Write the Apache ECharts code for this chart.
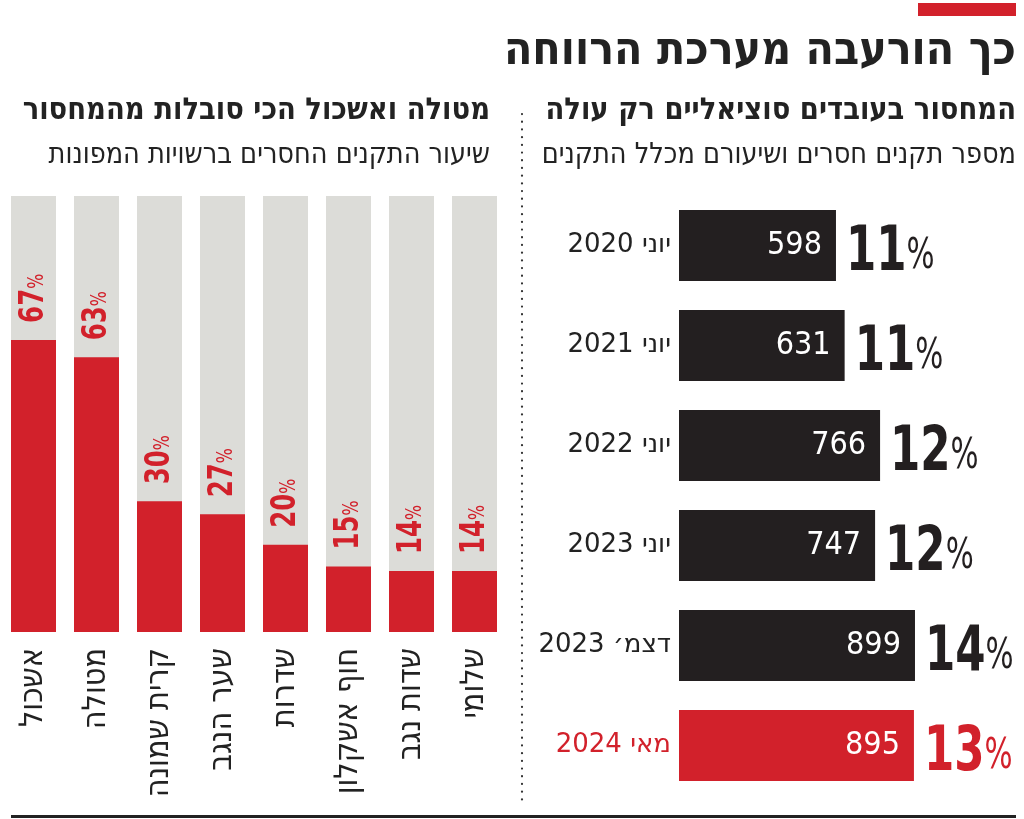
<!DOCTYPE html>
<html><head><meta charset="utf-8">
<script src="https://cdn.jsdelivr.net/npm/echarts@6/dist/echarts.min.js"></script>
<style>html,body{margin:0;padding:0;background:#fff}#c{width:1024px;height:819px}</style>
</head><body><div id="c"></div>
<script>
// Left panel: share of missing positions in evacuated municipalities
const towns = ['אשכול','מטולה','קרית שמונה','שער הנגב','שדרות','חוף אשקלון','שדות נגב','שלומי'];
const townPct = [67, 63, 30, 27, 20, 15, 14, 14];
// Right panel: missing social-worker positions
const periods = ['יוני 2020','יוני 2021','יוני 2022','יוני 2023','דצמ׳ 2023','מאי 2024'];
const missing = [598, 631, 766, 747, 899, 895];
const missingPct = [11, 11, 12, 12, 14, 13];

const RED = '#d2212b', BLACK = '#231f20', GRAY = '#dcdcd8', TXT = '#222';
const COND = '"DejaVu Sans Condensed", "Liberation Sans Narrow", sans-serif';

const chart = echarts.init(document.getElementById('c'), null, {renderer: 'canvas'});
const lastIdx = periods.length - 1;

function pctText(n, big, small, color) {
  return {
    text: '{n|' + n + '}{p|%}',
    rich: {
      n: {fontSize: big, fontWeight: 'bold', fontFamily: COND, fill: color, color: color, verticalAlign: 'bottom'},
      p: {fontSize: small, fontFamily: COND, fill: color, color: color, verticalAlign: 'bottom', padding: [0, 0, Math.round(big * 0.09), 0]}
    }
  };
}

chart.setOption({
  animation: false,
  backgroundColor: '#fff',
  grid: [
    {left: 2, top: 196, width: 504, height: 436},
    {left: 679, top: 195.5, width: 262.5, height: 600}
  ],
  xAxis: [
    {gridIndex: 0, type: 'category', data: towns,
     axisLine: {show: false}, axisTick: {show: false},
     axisLabel: {rotate: 90, margin: 16, color: TXT, fontSize: 32, fontFamily: COND, interval: 0}},
    {gridIndex: 1, type: 'value', min: 0, max: 1000, show: false}
  ],
  yAxis: [
    {gridIndex: 0, type: 'value', min: 0, max: 100, show: false},
    {gridIndex: 1, type: 'category', data: periods, inverse: true,
     axisLine: {show: false}, axisTick: {show: false},
     axisLabel: {margin: 8, fontSize: 26, fontFamily: '"DejaVu Sans", sans-serif',
       color: (v, i) => i === lastIdx ? RED : TXT}}
  ],
  series: [
    {type: 'bar', xAxisIndex: 0, yAxisIndex: 0, data: townPct, barWidth: 45,
     itemStyle: {color: RED}, showBackground: true, backgroundStyle: {color: GRAY}},
    {type: 'custom', xAxisIndex: 0, yAxisIndex: 0, silent: true,
     data: townPct.map((v, i) => [i, v]),
     renderItem: (params, api) => {
       const pt = api.coord([api.value(0), api.value(1)]);
       const t = pctText(api.value(1), 34, 22, RED);
       return {type: 'text', x: pt[0] + 1, y: pt[1] - 17, rotation: Math.PI / 2, scaleX: 0.8,
         style: {text: t.text, rich: t.rich, align: 'left', verticalAlign: 'middle'}};
     }},
    {type: 'bar', xAxisIndex: 1, yAxisIndex: 1, barWidth: 71,
     data: missing.map((v, i) => ({value: v, itemStyle: {color: i === lastIdx ? RED : BLACK}})),
     label: {show: true, position: 'insideRight', distance: 14, color: '#fff', fontSize: 32, fontFamily: COND}},
    {type: 'custom', xAxisIndex: 1, yAxisIndex: 1, silent: true,
     data: missing.map((v, i) => [v, i, missingPct[i]]),
     renderItem: (params, api) => {
       const pt = api.coord([api.value(0), api.value(1)]);
       const idx = api.value(1);
       const t = pctText(api.value(2), 62, 42, idx === lastIdx ? RED : BLACK);
       return {type: 'text', x: pt[0] + 10, y: pt[1] + 8, scaleX: 0.78,
         style: {text: t.text, rich: t.rich, align: 'left', verticalAlign: 'middle'}};
     }}
  ],
  graphic: [
    {type: 'rect', shape: {x: 918, y: 3, width: 98, height: 13}, style: {fill: RED}},
    {type: 'text', x: 1016, y: 52, style: {text: 'כך הורעבה מערכת הרווחה', textAlign: 'right', textVerticalAlign: 'middle',
      font: 'bold 46px ' + COND, fill: TXT}},
    {type: 'text', x: 1016, y: 111, style: {text: 'המחסור בעובדים סוציאליים רק עולה', textAlign: 'right', textVerticalAlign: 'middle',
      font: 'bold 30.5px ' + COND, fill: TXT}},
    {type: 'text', x: 1016, y: 156, style: {text: 'מספר תקנים חסרים ושיעורם מכלל התקנים', textAlign: 'right', textVerticalAlign: 'middle',
      font: '28.5px ' + COND, fill: TXT}},
    {type: 'text', x: 490, y: 111, style: {text: 'מטולה ואשכול הכי סובלות מהמחסור', textAlign: 'right', textVerticalAlign: 'middle',
      font: 'bold 30.5px ' + COND, fill: TXT}},
    {type: 'text', x: 490, y: 156, style: {text: 'שיעור התקנים החסרים ברשויות המפונות', textAlign: 'right', textVerticalAlign: 'middle',
      font: '28.5px ' + COND, fill: TXT}},
    {type: 'line', shape: {x1: 522, y1: 114, x2: 522, y2: 801},
     style: {stroke: '#333', lineWidth: 2.2, lineDash: [0.1, 7.6], lineCap: 'round'}},
    {type: 'rect', shape: {x: 11, y: 815, width: 1005, height: 3}, style: {fill: TXT}}
  ]
});
</script></body></html>
